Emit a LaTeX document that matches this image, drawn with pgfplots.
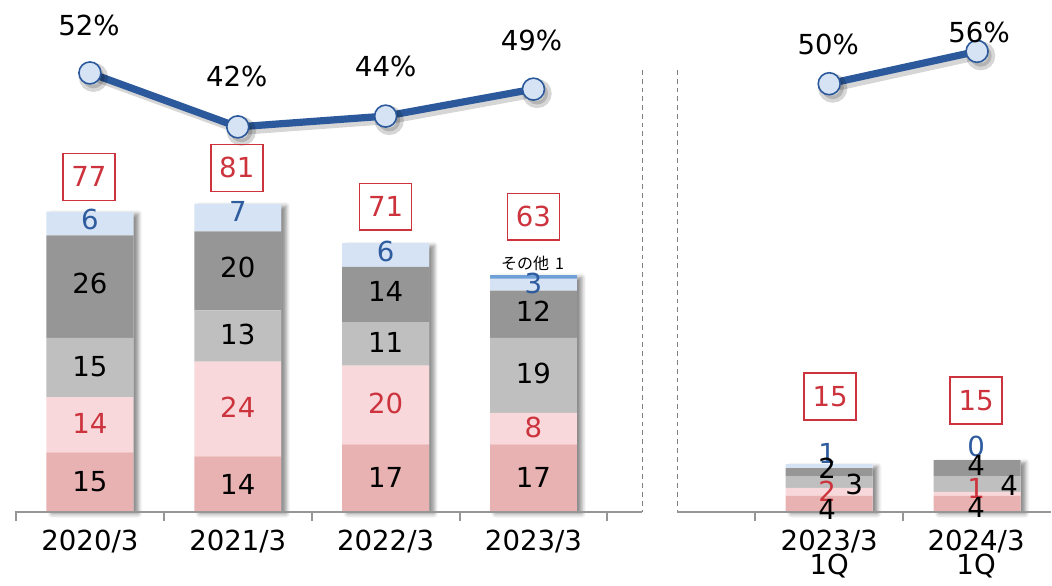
\documentclass[border=0pt]{standalone}
\usepackage{pgfplots}
\pgfplotsset{compat=1.18}
\usepackage{fontspec}
\setmainfont{DejaVu Sans}
\newfontfamily\jp{Noto Sans CJK JP}
\usetikzlibrary{shadows.blur}

\definecolor{pinkD}{RGB}{233,178,178}
\definecolor{pinkL}{RGB}{248,216,218}
\definecolor{grayL}{RGB}{191,191,191}
\definecolor{grayD}{RGB}{150,150,150}
\definecolor{blueL}{RGB}{214,227,244}
\definecolor{blueS}{RGB}{112,160,216}
\definecolor{lineB}{RGB}{43,89,155}
\definecolor{redT}{RGB}{204,51,61}
\definecolor{blueT}{RGB}{46,92,158}
\definecolor{axisG}{RGB}{150,150,150}

\pgfplotsset{base/.style={at={(0,0)}, anchor=south west, scale only axis,
  width=526pt, height=290pt, xmin=-0.60811, xmax=6.5, hide axis, clip=false}}

\newcommand\px[2]{({#1*0.5pt},{(580-#2)*0.5pt})}
\newcommand\bigf{\fontsize{13.8}{16}\selectfont}

\begin{document}
\begin{tikzpicture}
% shadow of the bars
\begin{axis}[base, ymin=-17.215, ymax=129.62, ybar, bar width=0.588, bar shift=0pt]
\addplot[fill=white, draw=none, blur shadow={shadow xshift=2.5pt, shadow yshift=-1.2pt, shadow blur radius=2pt, shadow opacity=45}]
  coordinates {(0,76)(1,78)(2,68)(3,60)(5,12)(6,13)};
\end{axis}
% stacked bars
\begin{axis}[base, ymin=-17.215, ymax=129.62, ybar stacked, bar width=0.588]
\addplot[fill=pinkD, draw=none] coordinates {(0,15)(1,14)(2,17)(3,17)(5,4)(6,4)};
\addplot[fill=pinkL, draw=none] coordinates {(0,14)(1,24)(2,20)(3,8)(5,2)(6,1)};
\addplot[fill=grayL, draw=none] coordinates {(0,15)(1,13)(2,11)(3,19)(5,3)(6,4)};
\addplot[fill=grayD, draw=none] coordinates {(0,26)(1,20)(2,14)(3,12)(5,2)(6,4)};
\addplot[fill=blueL, draw=none] coordinates {(0,6)(1,7)(2,6)(3,3)(5,1)(6,0)};
\addplot[fill=blueS, draw=none] coordinates {(0,0)(1,0)(2,0)(3,1)(5,0)(6,0)};
\end{axis}
% ratio line
\begin{axis}[base, ymin=-41.89, ymax=65.52]
\pgfplotsset{shad/.style={black, opacity=0.16, line width=3.6pt, mark=*, mark size=5.5pt, xshift=1.8pt, yshift=-2.2pt},
  ln/.style={lineB, line width=3.6pt, mark=*, mark size=5.5pt, mark options={fill=blueL, draw=lineB, line width=0.8pt}}}
\addplot[shad] coordinates {(0,52)(1,42)(2,44)(3,49)};
\addplot[shad] coordinates {(5,50)(6,56)};
\addplot[ln] coordinates {(0,52)(1,42)(2,44)(3,49)};
\addplot[ln] coordinates {(5,50)(6,56)};
\end{axis}

% separators and x axis
\draw[axisG!85!black, line width=0.7pt, dash pattern=on 2.4pt off 2pt] \px{643}{70} -- \px{643}{512};
\draw[axisG!85!black, line width=0.7pt, dash pattern=on 2.4pt off 2pt] \px{678}{70} -- \px{678}{512};
\draw[axisG, line width=1pt] \px{15}{512} -- \px{643}{512};
\draw[axisG, line width=1pt] \px{678}{512} -- \px{1052}{512};
\foreach \t in {16,164,312,460,608,756,904}{\draw[axisG, line width=1pt] \px{\t}{512} -- \px{\t}{521};}

% tick labels
\node[font=\bigf] at \px{90}{542} {2020/3};
\node[font=\bigf] at \px{238}{542} {2021/3};
\node[font=\bigf] at \px{386}{542} {2022/3};
\node[font=\bigf] at \px{534}{542} {2023/3};
\node[font=\bigf] at \px{830}{542} {2023/3};
\node[font=\bigf] at \px{830}{567} {1Q};
\node[font=\bigf] at \px{977}{542} {2024/3};
\node[font=\bigf] at \px{977}{567} {1Q};

% percentages
\node[font=\bigf] at \px{89}{25} {52\%};
\node[font=\bigf] at \px{237}{77} {42\%};
\node[font=\bigf] at \px{386}{67} {44\%};
\node[font=\bigf] at \px{532}{41} {49\%};
\node[font=\bigf] at \px{829}{45} {50\%};
\node[font=\bigf] at \px{980}{32} {56\%};

% totals
\tikzset{tot/.style={draw=redT, text=redT, line width=0.8pt, font=\bigf, minimum width=26pt, minimum height=23.5pt, inner sep=0pt}}
\node[tot] at \px{89}{177} {77};
\node[tot] at \px{237}{168} {81};
\node[tot] at \px{386}{207} {71};
\node[tot] at \px{534}{217} {63};
\node[tot] at \px{831}{397} {15};
\node[tot] at \px{977}{401} {15};

% segment labels
\node[font=\bigf] at \px{90}{482} {15};
\node[font=\bigf, text=redT] at \px{90}{424} {14};
\node[font=\bigf] at \px{90}{367} {15};
\node[font=\bigf] at \px{90}{284} {26};
\node[font=\bigf, text=blueT] at \px{90}{220} {6};
\node[font=\bigf] at \px{238}{485} {14};
\node[font=\bigf, text=redT] at \px{238}{408} {24};
\node[font=\bigf] at \px{238}{335} {13};
\node[font=\bigf] at \px{238}{268} {20};
\node[font=\bigf, text=blueT] at \px{238}{212} {7};
\node[font=\bigf] at \px{386}{478} {17};
\node[font=\bigf, text=redT] at \px{386}{404} {20};
\node[font=\bigf] at \px{386}{343} {11};
\node[font=\bigf] at \px{386}{292} {14};
\node[font=\bigf, text=blueT] at \px{386}{252} {6};
\node[font=\bigf] at \px{534}{478} {17};
\node[font=\bigf, text=redT] at \px{534}{428} {8};
\node[font=\bigf] at \px{534}{374} {19};
\node[font=\bigf] at \px{534}{312} {12};
\node[font=\bigf, text=blueT] at \px{534}{284} {3};
\node[font=\jp\fontsize{8}{9}\selectfont] at \px{533}{264} {その他\hspace{3pt}1};
\node[font=\bigf, text=blueT] at \px{828}{454} {1};
\node[font=\bigf] at \px{828}{469} {2};
\node[font=\bigf] at \px{855}{485} {3};
\node[font=\bigf, text=redT] at \px{828}{492} {2};
\node[font=\bigf] at \px{828}{510} {4};
\node[font=\bigf, text=blueT] at \px{977}{447} {0};
\node[font=\bigf] at \px{977}{466} {4};
\node[font=\bigf] at \px{1010}{486} {4};
\node[font=\bigf, text=redT] at \px{977}{489} {1};
\node[font=\bigf] at \px{977}{508} {4};

\path (0,0) rectangle (526pt,290pt);
\end{tikzpicture}
\end{document}
